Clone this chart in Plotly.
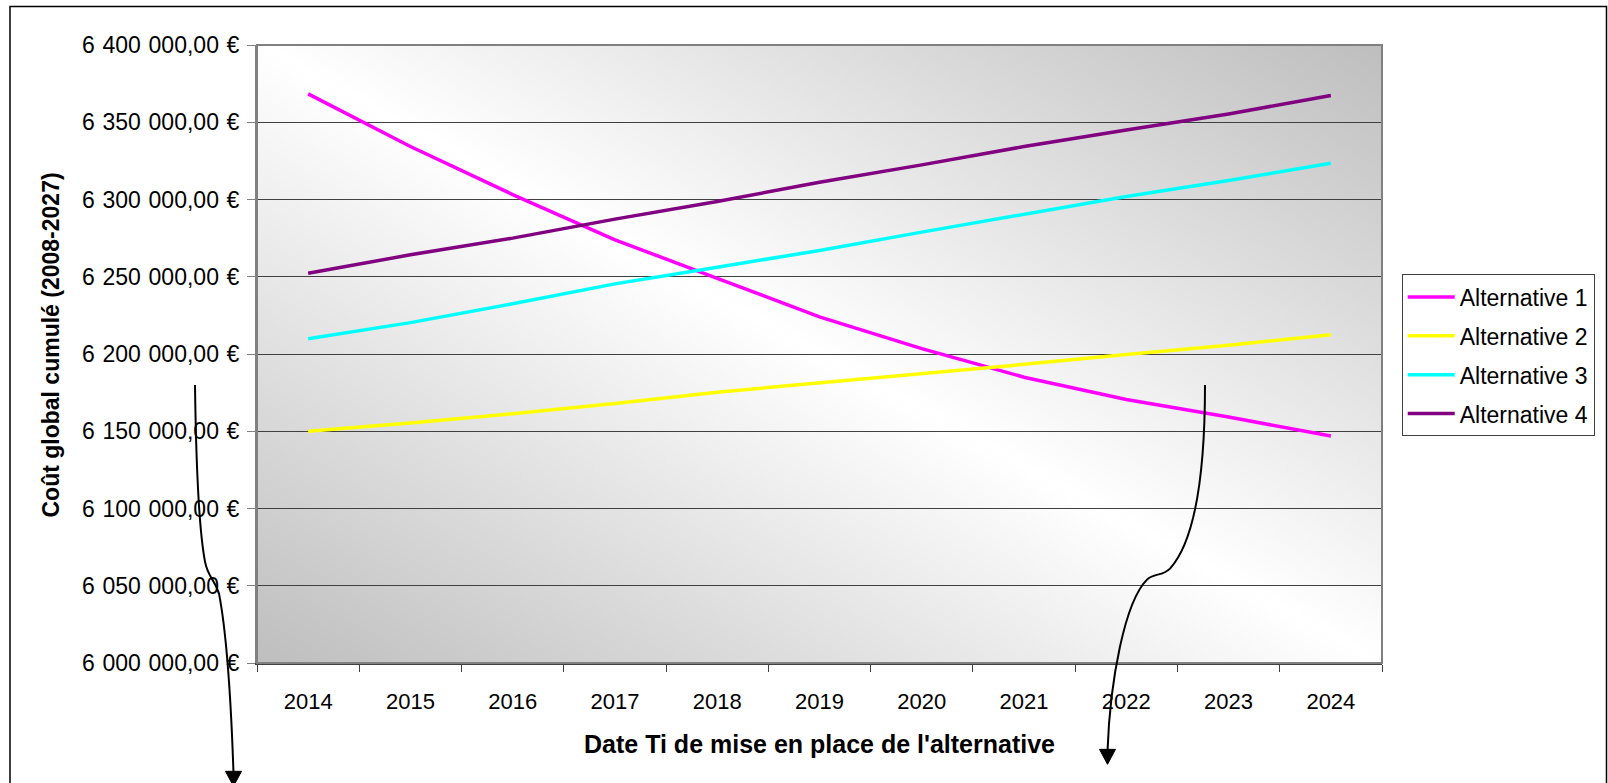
import base64
import plotly.graph_objects as go

# ---- data -------------------------------------------------------------
years = ["2014", "2015", "2016", "2017", "2018", "2019",
         "2020", "2021", "2022", "2023", "2024"]
alt1 = [6368400, 6334300, 6303200, 6273900, 6249000, 6224000,
        6203500, 6185000, 6170500, 6159200, 6146900]
alt2 = [6150000, 6155300, 6161400, 6167900, 6175300, 6181200,
        6187300, 6193300, 6199700, 6205600, 6212500]
alt3 = [6209900, 6220300, 6232500, 6245400, 6256200, 6267000,
        6278900, 6290300, 6302000, 6312300, 6323500]
alt4 = [6252300, 6264200, 6275000, 6287300, 6298700, 6311200,
        6322400, 6334300, 6345000, 6355400, 6367300]
series_names = ["Alternative 1", "Alternative 2", "Alternative 3", "Alternative 4"]
series_colors = ["#FF00FF", "#FFFF00", "#00FFFF", "#800080"]

# French currency format, digit groups separated by a slightly wide space
y_tick_values = [6000000, 6050000, 6100000, 6150000, 6200000,
                 6250000, 6300000, 6350000, 6400000]
y_tick_labels = ["6\u2004000\u2004000,00\u2004€", "6\u2004050\u2004000,00\u2004€",
                 "6\u2004100\u2004000,00\u2004€", "6\u2004150\u2004000,00\u2004€",
                 "6\u2004200\u2004000,00\u2004€", "6\u2004250\u2004000,00\u2004€",
                 "6\u2004300\u2004000,00\u2004€", "6\u2004350\u2004000,00\u2004€",
                 "6\u2004400\u2004000,00\u2004€"]
y_title = "Coût global cumulé (2008-2027)"
x_title = "Date Ti de mise en place de l'alternative"

# ---- geometry of the page (pixels) -----------------------------------
FIG_W, FIG_H = 1608, 783
PLOT_L, PLOT_R, PLOT_T, PLOT_B = 257, 1382, 44.5, 663.5
PW, PH = PLOT_R - PLOT_L, PLOT_B - PLOT_T


def px(x):
    return (x - PLOT_L) / PW


def py(y):
    return (PLOT_B - y) / PH


def path(cmds):
    """Build an SVG path in paper units from (command, [points]) pairs given in pixels."""
    out = []
    for op, pts in cmds:
        out.append(op + " " + " ".join(f"{px(x):.5f},{py(y):.5f}" for x, y in pts))
    return " ".join(out).strip()


FONT = "Liberation Sans, Arial, sans-serif"

fig = go.Figure()
for name, vals, col in zip(series_names, [alt1, alt2, alt3, alt4], series_colors):
    fig.add_trace(go.Scatter(
        x=years, y=vals, name=name, mode="lines",
        line=dict(color=col, width=3.5),
        legendgroup=name,
    ))

# diagonal grey-white-grey gradient behind the plot area
svg = (
    '<svg xmlns="http://www.w3.org/2000/svg" width="1125" height="619" '
    'viewBox="0 0 100 100" preserveAspectRatio="none">'
    '<defs><linearGradient id="g" x1="0" y1="1" x2="1" y2="0">'
    '<stop offset="0" stop-color="#bebebe"/>'
    '<stop offset="0.5" stop-color="#ffffff"/>'
    '<stop offset="1" stop-color="#bebebe"/>'
    '</linearGradient></defs>'
    '<rect x="0" y="0" width="100" height="100" fill="url(#g)"/></svg>'
)
svg_uri = "data:image/svg+xml;base64," + base64.b64encode(svg.encode()).decode()


def arrow_head(tip_x, tip_y, half_w, length):
    return path([("M", [(tip_x - half_w, tip_y - length)]),
                 ("L", [(tip_x + half_w, tip_y - length)]),
                 ("L", [(tip_x, tip_y)]),
                 ("Z", [])])


shapes = [
    # outer frame
    dict(type="rect", xref="paper", yref="paper",
         x0=px(10), x1=px(1606.5), y0=py(830), y1=py(6),
         line=dict(color="#000000", width=1.5), fillcolor="rgba(0,0,0,0)"),
    # plot-area border
    dict(type="rect", xref="paper", yref="paper", x0=0, x1=1, y0=0, y1=1,
         line=dict(color="#808080", width=2), fillcolor="rgba(0,0,0,0)"),
    # left curved arrow
    dict(type="path", xref="paper", yref="paper",
         path=path([("M", [(195, 385)]),
                    ("C", [(196, 460), (199, 530), (205, 562)]),
                    ("C", [(208, 578), (215, 580), (219, 594)]),
                    ("C", [(226, 630), (231, 700), (233.5, 774)])]),
         line=dict(color="#000000", width=2)),
    dict(type="path", xref="paper", yref="paper",
         path=arrow_head(233.5, 787, 8, 15),
         line=dict(color="#000000", width=1), fillcolor="#000000"),
    # right curved arrow
    dict(type="path", xref="paper", yref="paper",
         path=path([("M", [(1205, 385)]),
                    ("C", [(1205, 470), (1196, 540), (1170, 569)]),
                    ("C", [(1162, 577), (1154, 573), (1147, 580)]),
                    ("C", [(1125, 602), (1110, 680), (1107.5, 752)])]),
         line=dict(color="#000000", width=2)),
    dict(type="path", xref="paper", yref="paper",
         path=arrow_head(1107.5, 765, 8, 15),
         line=dict(color="#000000", width=1), fillcolor="#000000"),
]

# vertical axis title, placed as a rotated annotation
annotations = [
    dict(text=y_title, textangle=-90, showarrow=False,
         xref="paper", yref="paper", x=px(51), y=py(345.5),
         xanchor="center", yanchor="middle",
         font=dict(family=FONT, size=23, weight="bold", color="#000000")),
]

fig.update_layout(
    width=FIG_W, height=FIG_H,
    margin=dict(l=PLOT_L, r=FIG_W - PLOT_R, t=PLOT_T, b=FIG_H - PLOT_B, pad=0),
    paper_bgcolor="#ffffff",
    plot_bgcolor="rgba(0,0,0,0)",
    font=dict(family=FONT, size=22, color="#000000"),
    images=[dict(source=svg_uri, xref="paper", yref="paper", x=0, y=1,
                 sizex=1, sizey=1, xanchor="left", yanchor="top",
                 sizing="stretch", layer="below")],
    shapes=shapes,
    annotations=annotations,
    showlegend=True,
    legend=dict(
        x=px(1401.7), y=py(274.3), xanchor="left", yanchor="top",
        bgcolor="#ffffff", bordercolor="#404040", borderwidth=1,
        font=dict(family=FONT, size=23, color="#000000"),
        tracegroupgap=6, itemwidth=47,
    ),
    xaxis=dict(
        type="category", range=[-0.5, 10.5],
        tickson="boundaries", ticks="outside", ticklen=7, tickwidth=1,
        tickcolor="#404040",
        showline=True, linecolor="#404040", linewidth=2,
        showgrid=False, zeroline=False,
        tickfont=dict(family=FONT, size=22),
        ticklabelstandoff=18,
        title=dict(text=x_title,
                   font=dict(family=FONT, size=25, weight="bold"), standoff=22),
    ),
    yaxis=dict(
        range=[6000000, 6400000],
        tickvals=y_tick_values, ticktext=y_tick_labels,
        ticks="outside", ticklen=8, tickwidth=1, tickcolor="#808080",
        showline=True, linecolor="#808080", linewidth=2,
        showgrid=True, gridcolor="#404040", gridwidth=1,
        zeroline=False,
        tickfont=dict(family=FONT, size=23),
        ticklabelstandoff=3,
    ),
)

fig.write_html("out.html")
